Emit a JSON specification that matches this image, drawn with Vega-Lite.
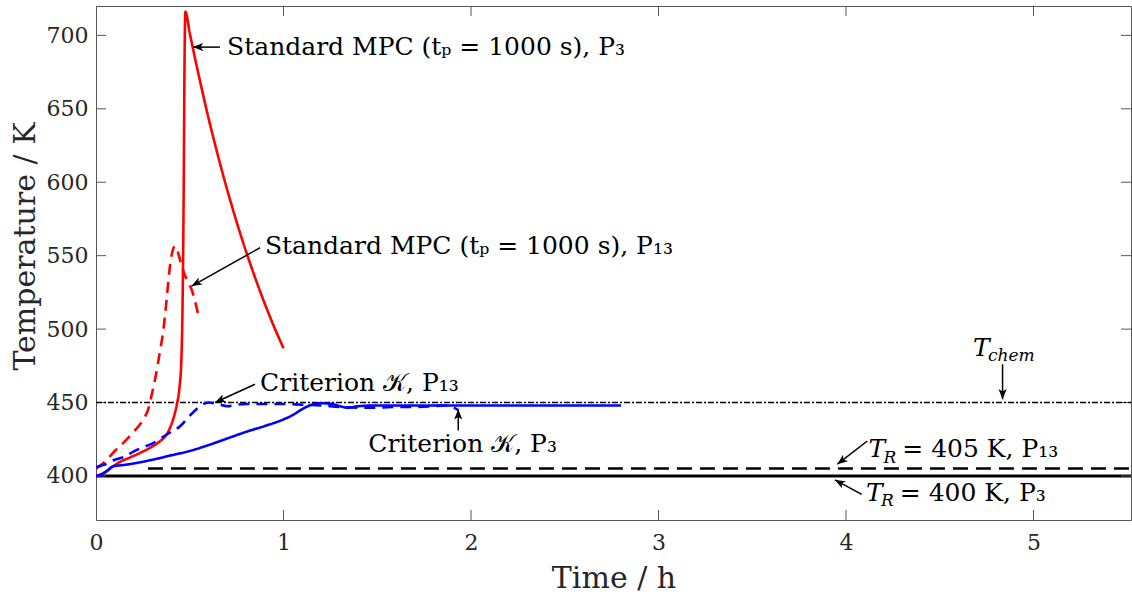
{
  "$schema": "https://vega.github.io/schema/vega-lite/v6.json",
  "width": 1035,
  "height": 514,
  "autosize": {"type": "none"},
  "padding": {"left": 96, "top": 6, "right": 1, "bottom": 74},
  "background": "white",
  "config": {
    "font": "DejaVu Serif",
    "view": {"stroke": "#555555", "strokeWidth": 1},
    "axis": {
      "grid": false,
      "domain": false,
      "ticks": false,
      "labelColor": "#262626",
      "labelFont": "DejaVu Serif",
      "labelFontSize": 22,
      "labelFlush": false,
      "titleFont": "DejaVu Serif",
      "titleFontSize": 30,
      "titleFontWeight": "normal",
      "titleColor": "#262626"
    }
  },
  "datasets": {
    "curves": [
      {"s": "mpc_p3", "t": 0.0, "T": 400},
      {"s": "mpc_p3", "t": 0.04, "T": 402},
      {"s": "mpc_p3", "t": 0.08, "T": 405.5},
      {"s": "mpc_p3", "t": 0.12, "T": 409},
      {"s": "mpc_p3", "t": 0.18, "T": 412.5},
      {"s": "mpc_p3", "t": 0.24, "T": 416},
      {"s": "mpc_p3", "t": 0.3, "T": 420},
      {"s": "mpc_p3", "t": 0.34, "T": 423.5},
      {"s": "mpc_p3", "t": 0.38, "T": 429},
      {"s": "mpc_p3", "t": 0.41, "T": 438},
      {"s": "mpc_p3", "t": 0.43, "T": 448},
      {"s": "mpc_p3", "t": 0.445, "T": 460},
      {"s": "mpc_p3", "t": 0.455, "T": 478},
      {"s": "mpc_p3", "t": 0.462, "T": 520},
      {"s": "mpc_p3", "t": 0.468, "T": 600},
      {"s": "mpc_p3", "t": 0.472, "T": 680},
      {"s": "mpc_p3", "t": 0.477, "T": 716},
      {"s": "mpc_p3", "t": 0.5, "T": 701.5},
      {"s": "mpc_p3", "t": 0.55, "T": 671.6},
      {"s": "mpc_p3", "t": 0.6, "T": 643.7},
      {"s": "mpc_p3", "t": 0.65, "T": 618.3},
      {"s": "mpc_p3", "t": 0.7, "T": 594.7},
      {"s": "mpc_p3", "t": 0.75, "T": 573},
      {"s": "mpc_p3", "t": 0.8, "T": 552.9},
      {"s": "mpc_p3", "t": 0.85, "T": 534.5},
      {"s": "mpc_p3", "t": 0.9, "T": 517.3},
      {"s": "mpc_p3", "t": 0.95, "T": 501.5},
      {"s": "mpc_p3", "t": 1.0, "T": 487},

      {"s": "mpc_p13", "t": 0.0, "T": 405},
      {"s": "mpc_p13", "t": 0.05, "T": 410},
      {"s": "mpc_p13", "t": 0.1, "T": 417},
      {"s": "mpc_p13", "t": 0.15, "T": 423},
      {"s": "mpc_p13", "t": 0.2, "T": 430},
      {"s": "mpc_p13", "t": 0.25, "T": 438},
      {"s": "mpc_p13", "t": 0.28, "T": 446},
      {"s": "mpc_p13", "t": 0.3, "T": 457},
      {"s": "mpc_p13", "t": 0.32, "T": 469},
      {"s": "mpc_p13", "t": 0.34, "T": 484},
      {"s": "mpc_p13", "t": 0.36, "T": 500},
      {"s": "mpc_p13", "t": 0.375, "T": 518},
      {"s": "mpc_p13", "t": 0.39, "T": 538},
      {"s": "mpc_p13", "t": 0.4, "T": 548},
      {"s": "mpc_p13", "t": 0.41, "T": 554},
      {"s": "mpc_p13", "t": 0.42, "T": 556.5},
      {"s": "mpc_p13", "t": 0.43, "T": 555.5},
      {"s": "mpc_p13", "t": 0.44, "T": 551},
      {"s": "mpc_p13", "t": 0.455, "T": 544},
      {"s": "mpc_p13", "t": 0.47, "T": 538},
      {"s": "mpc_p13", "t": 0.49, "T": 532},
      {"s": "mpc_p13", "t": 0.51, "T": 527},
      {"s": "mpc_p13", "t": 0.53, "T": 518},
      {"s": "mpc_p13", "t": 0.545, "T": 510},

      {"s": "crit_p13", "t": 0.0, "T": 406},
      {"s": "crit_p13", "t": 0.05, "T": 408},
      {"s": "crit_p13", "t": 0.1, "T": 411},
      {"s": "crit_p13", "t": 0.15, "T": 413},
      {"s": "crit_p13", "t": 0.2, "T": 416.5},
      {"s": "crit_p13", "t": 0.25, "T": 419.5},
      {"s": "crit_p13", "t": 0.3, "T": 422},
      {"s": "crit_p13", "t": 0.35, "T": 426},
      {"s": "crit_p13", "t": 0.4, "T": 430},
      {"s": "crit_p13", "t": 0.45, "T": 434},
      {"s": "crit_p13", "t": 0.5, "T": 441},
      {"s": "crit_p13", "t": 0.55, "T": 447},
      {"s": "crit_p13", "t": 0.6, "T": 450},
      {"s": "crit_p13", "t": 0.65, "T": 449},
      {"s": "crit_p13", "t": 0.7, "T": 447.5},
      {"s": "crit_p13", "t": 0.75, "T": 448.5},
      {"s": "crit_p13", "t": 0.8, "T": 449},
      {"s": "crit_p13", "t": 0.9, "T": 449},
      {"s": "crit_p13", "t": 1.0, "T": 449},
      {"s": "crit_p13", "t": 1.1, "T": 448.5},
      {"s": "crit_p13", "t": 1.2, "T": 448},
      {"s": "crit_p13", "t": 1.3, "T": 447},
      {"s": "crit_p13", "t": 1.4, "T": 446.5},
      {"s": "crit_p13", "t": 1.5, "T": 446.5},
      {"s": "crit_p13", "t": 1.6, "T": 447},
      {"s": "crit_p13", "t": 1.7, "T": 447},
      {"s": "crit_p13", "t": 1.8, "T": 447.5},
      {"s": "crit_p13", "t": 1.86, "T": 448},
      {"s": "crit_p13", "t": 1.9, "T": 447},
      {"s": "crit_p13", "t": 1.93, "T": 445},

      {"s": "crit_p3", "t": 0.0, "T": 400},
      {"s": "crit_p3", "t": 0.03, "T": 401},
      {"s": "crit_p3", "t": 0.06, "T": 403.5},
      {"s": "crit_p3", "t": 0.09, "T": 406.5},
      {"s": "crit_p3", "t": 0.15, "T": 407.5},
      {"s": "crit_p3", "t": 0.2, "T": 408.5},
      {"s": "crit_p3", "t": 0.3, "T": 411},
      {"s": "crit_p3", "t": 0.4, "T": 414},
      {"s": "crit_p3", "t": 0.5, "T": 417},
      {"s": "crit_p3", "t": 0.6, "T": 421},
      {"s": "crit_p3", "t": 0.7, "T": 425.5},
      {"s": "crit_p3", "t": 0.8, "T": 430},
      {"s": "crit_p3", "t": 0.9, "T": 434},
      {"s": "crit_p3", "t": 1.0, "T": 438.5},
      {"s": "crit_p3", "t": 1.05, "T": 441.5},
      {"s": "crit_p3", "t": 1.1, "T": 445.5},
      {"s": "crit_p3", "t": 1.15, "T": 448.5},
      {"s": "crit_p3", "t": 1.2, "T": 449.5},
      {"s": "crit_p3", "t": 1.26, "T": 449},
      {"s": "crit_p3", "t": 1.3, "T": 447.5},
      {"s": "crit_p3", "t": 1.34, "T": 446.5},
      {"s": "crit_p3", "t": 1.4, "T": 447.5},
      {"s": "crit_p3", "t": 1.5, "T": 448},
      {"s": "crit_p3", "t": 1.8, "T": 448},
      {"s": "crit_p3", "t": 2.2, "T": 448},
      {"s": "crit_p3", "t": 2.5, "T": 448},
      {"s": "crit_p3", "t": 2.8, "T": 448}
    ],
    "refs": [
      {"k": "chem", "x0": 0, "x1": 5.52, "y": 450},
      {"k": "r405", "x0": 0.277, "x1": 5.52, "y": 405},
      {"k": "r400", "x0": 0, "x1": 5.52, "y": 400}
    ],
    "xticks": [{"v": 0}, {"v": 1}, {"v": 2}, {"v": 3}, {"v": 4}, {"v": 5}],
    "yticks": [{"v": 400}, {"v": 450}, {"v": 500}, {"v": 550}, {"v": 600}, {"v": 650}, {"v": 700}],
    "arrows": [
      {"x": 0.661, "y": 692, "x2": 0.517, "y2": 692, "ang": 180},
      {"x": 0.875, "y": 555.4, "x2": 0.51, "y2": 529.3, "ang": 150.7},
      {"x": 0.848, "y": 462.4, "x2": 0.635, "y2": 450, "ang": 155.4},
      {"x": 1.932, "y": 430.9, "x2": 1.932, "y2": 445.4, "ang": 270},
      {"x": 4.835, "y": 476, "x2": 4.835, "y2": 452.2, "ang": 90},
      {"x": 4.114, "y": 423.8, "x2": 3.954, "y2": 408, "ang": 142.2},
      {"x": 4.084, "y": 387.5, "x2": 3.941, "y2": 397.3, "ang": 208.2}
    ],
    "labels": [
      {"txt": "Standard MPC (tₚ = 1000 s), P₃", "x": 0.699, "y": 692, "part": "main"},
      {"txt": "Standard MPC (tₚ = 1000 s), P₁₃", "x": 0.901, "y": 556.5, "part": "main"},
      {"txt": "Criterion 𝒦, P₁₃", "x": 0.875, "y": 463.5, "part": "main"},
      {"txt": "Criterion 𝒦, P₃", "x": 1.452, "y": 421.6, "part": "main"},
      {"txt": "T", "x": 4.677, "y": 487, "part": "ital"},
      {"txt": "chem", "x": 4.757, "y": 482, "part": "sub"},
      {"txt": "T", "x": 4.12, "y": 418.2, "part": "ital"},
      {"txt": "R", "x": 4.2, "y": 412.3, "part": "sub"},
      {"txt": "= 405 K, P₁₃", "x": 4.3, "y": 418.2, "part": "main"},
      {"txt": "T", "x": 4.107, "y": 388.7, "part": "ital"},
      {"txt": "R", "x": 4.187, "y": 382.8, "part": "sub"},
      {"txt": "= 400 K, P₃", "x": 4.287, "y": 388.7, "part": "main"}
    ]
  },
  "layer": [
    {
      "data": {"name": "refs"},
      "transform": [{"filter": "datum.k === 'r400'"}],
      "mark": {"type": "rule", "color": "black", "strokeWidth": 3},
      "encoding": {
        "x": {"field": "x0", "type": "quantitative", "scale": {"domain": [0, 5.52], "nice": false, "zero": false},
              "axis": {"orient": "bottom", "values": [0, 1, 2, 3, 4, 5], "title": "Time / h", "labelPadding": 12, "titlePadding": 10, "format": "d"}},
        "x2": {"field": "x1"},
        "y": {"field": "y", "type": "quantitative", "scale": {"domain": [370, 720], "nice": false, "zero": false},
              "axis": {"orient": "left", "values": [400, 450, 500, 550, 600, 650, 700], "title": "Temperature / K", "labelPadding": 8, "titleX": -71, "titleY": 240, "titleBaseline": "middle", "titleAngle": -90, "format": "d"}}
      }
    },
    {
      "data": {"name": "xticks"},
      "mark": {"type": "tick", "orient": "vertical", "size": 20, "thickness": 1, "color": "#555555", "clip": true, "opacity": 1},
      "encoding": {
        "x": {"field": "v", "type": "quantitative", "axis": null},
        "y": {"datum": 370, "type": "quantitative", "axis": null}
      }
    },
    {
      "data": {"name": "xticks"},
      "mark": {"type": "tick", "orient": "vertical", "size": 20, "thickness": 1, "color": "#555555", "clip": true, "opacity": 1},
      "encoding": {
        "x": {"field": "v", "type": "quantitative", "axis": null},
        "y": {"datum": 720, "type": "quantitative", "axis": null}
      }
    },
    {
      "data": {"name": "yticks"},
      "mark": {"type": "tick", "orient": "horizontal", "size": 20, "thickness": 1, "color": "#555555", "clip": true, "opacity": 1},
      "encoding": {
        "y": {"field": "v", "type": "quantitative", "axis": null},
        "x": {"datum": 0, "type": "quantitative", "axis": null}
      }
    },
    {
      "data": {"name": "yticks"},
      "mark": {"type": "tick", "orient": "horizontal", "size": 20, "thickness": 1, "color": "#555555", "clip": true, "opacity": 1},
      "encoding": {
        "y": {"field": "v", "type": "quantitative", "axis": null},
        "x": {"datum": 5.52, "type": "quantitative", "axis": null}
      }
    },
    {
      "data": {"name": "refs"},
      "transform": [{"filter": "datum.k === 'r405'"}],
      "mark": {"type": "rule", "color": "black", "strokeWidth": 2.5, "strokeDash": [15, 8]},
      "encoding": {
        "x": {"field": "x0", "type": "quantitative", "axis": null},
        "x2": {"field": "x1"},
        "y": {"field": "y", "type": "quantitative", "axis": null}
      }
    },
    {
      "data": {"name": "refs"},
      "transform": [{"filter": "datum.k === 'chem'"}],
      "mark": {"type": "rule", "color": "black", "strokeWidth": 1.5, "strokeDash": [6, 2, 2, 2]},
      "encoding": {
        "x": {"field": "x0", "type": "quantitative", "axis": null},
        "x2": {"field": "x1"},
        "y": {"field": "y", "type": "quantitative", "axis": null}
      }
    },
    {
      "data": {"name": "curves"},
      "mark": {"type": "line", "strokeWidth": 2.6, "clip": true, "interpolate": "monotone"},
      "encoding": {
        "x": {"field": "t", "type": "quantitative", "axis": null},
        "y": {"field": "T", "type": "quantitative", "axis": null},
        "detail": {"field": "s"},
        "order": {"field": "t", "type": "quantitative"},
        "color": {"field": "s", "type": "nominal", "legend": null,
                  "scale": {"domain": ["mpc_p3", "mpc_p13", "crit_p13", "crit_p3"], "range": ["#ff0000", "#ff0000", "#0000ff", "#0000ff"]}},
        "strokeDash": {"field": "s", "type": "nominal", "legend": null,
                  "scale": {"domain": ["mpc_p3", "mpc_p13", "crit_p13", "crit_p3"], "range": [[1, 0], [11, 7], [11, 7], [1, 0]]}}
      }
    },
    {
      "data": {"name": "arrows"},
      "mark": {"type": "rule", "color": "black", "strokeWidth": 1.5},
      "encoding": {
        "x": {"field": "x", "type": "quantitative", "axis": null},
        "y": {"field": "y", "type": "quantitative", "axis": null},
        "x2": {"field": "x2"},
        "y2": {"field": "y2"}
      }
    },
    {
      "data": {"name": "arrows"},
      "mark": {"type": "point", "shape": "M0,0L-1,-0.4L-0.75,0L-1,0.4Z", "filled": true, "color": "black", "size": 420, "opacity": 1},
      "encoding": {
        "x": {"field": "x2", "type": "quantitative", "axis": null},
        "y": {"field": "y2", "type": "quantitative", "axis": null},
        "angle": {"field": "ang", "type": "quantitative", "scale": null}
      }
    },
    {
      "data": {"name": "labels"},
      "transform": [{"filter": "datum.part === 'main'"}],
      "mark": {"type": "text", "align": "left", "baseline": "middle", "fontSize": 25, "font": "DejaVu Serif", "color": "black"},
      "encoding": {
        "x": {"field": "x", "type": "quantitative", "axis": null},
        "y": {"field": "y", "type": "quantitative", "axis": null},
        "text": {"field": "txt"}
      }
    },
    {
      "data": {"name": "labels"},
      "transform": [{"filter": "datum.part === 'ital'"}],
      "mark": {"type": "text", "align": "left", "baseline": "middle", "fontSize": 25, "fontStyle": "italic", "font": "DejaVu Serif", "color": "black"},
      "encoding": {
        "x": {"field": "x", "type": "quantitative", "axis": null},
        "y": {"field": "y", "type": "quantitative", "axis": null},
        "text": {"field": "txt"}
      }
    },
    {
      "data": {"name": "labels"},
      "transform": [{"filter": "datum.part === 'sub'"}],
      "mark": {"type": "text", "align": "left", "baseline": "middle", "fontSize": 17, "fontStyle": "italic", "font": "DejaVu Serif", "color": "black"},
      "encoding": {
        "x": {"field": "x", "type": "quantitative", "axis": null},
        "y": {"field": "y", "type": "quantitative", "axis": null},
        "text": {"field": "txt"}
      }
    }
  ],
  "resolve": {"axis": {"x": "independent", "y": "independent"}}
}
